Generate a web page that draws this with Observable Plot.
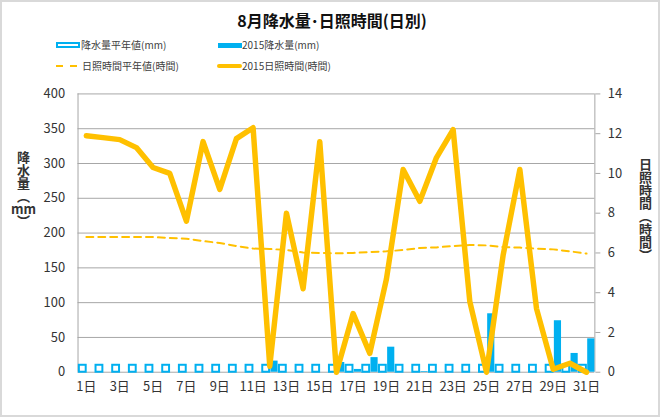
<!DOCTYPE html>
<html><head><meta charset="utf-8">
<script src="https://cdn.jsdelivr.net/npm/d3@7"></script>
<script src="https://cdn.jsdelivr.net/npm/@observablehq/plot@0.6"></script>
<style>
html,body{margin:0;padding:0;background:#fff;}
#wrap{position:relative;width:660px;height:417px;background:#fff;box-sizing:border-box;border:2px solid #d9d9d9;overflow:hidden;font-family:"Noto Sans CJK JP",sans-serif;color:#333;}
#wrap svg{position:absolute;left:-2px;top:-2px;}
.abs{position:absolute;white-space:nowrap;}
.leg{font-size:10px;line-height:10px;color:#404040;}
.vt{position:absolute;writing-mode:vertical-rl;font-size:13px;line-height:16px;font-weight:bold;color:#333;white-space:nowrap;}
.hzt{position:absolute;font-size:13px;line-height:12px;height:12px;width:24px;text-align:center;font-weight:bold;color:#333;}
</style></head>
<body>
<div id="wrap">
  <div class="abs" style="left:0;width:660px;top:8px;text-align:center;font-size:16px;font-weight:bold;color:#111;line-height:20px;">8月降水量･日照時間(日別)</div>
  <div class="abs" style="left:54px;top:40px;width:24px;height:6px;border:2px solid #00B0F0;box-sizing:border-box;background:#fff;"></div>
  <div class="abs leg" style="left:79px;top:38px;">降水量平年値(mm)</div>
  <div class="abs" style="left:216px;top:41px;width:24px;height:5px;background:#00B0F0;"></div>
  <div class="abs leg" style="left:240px;top:38px;">2015降水量(mm)</div>
  <div class="abs" style="left:54px;top:63px;width:7px;height:2px;background:#FFC000;"></div>
  <div class="abs" style="left:68px;top:63px;width:7px;height:2px;background:#FFC000;"></div>
  <div class="abs leg" style="left:80px;top:59px;">日照時間平年値(時間)</div>
  <div class="abs" style="left:215px;top:62px;width:25px;height:4px;border-radius:2px;background:#FFC000;"></div>
  <div class="abs leg" style="left:240px;top:59px;">2015日照時間(時間)</div>
  <div class="vt" style="left:13px;top:149px;">降水量（</div>
  <div class="hzt" style="left:9px;top:201px;">mm</div>
  <div class="vt" style="left:13px;top:213px;">）</div>
  <div class="vt" style="left:635px;top:156px;">日照時間（時間）</div>
</div>
<script>
const days = [1,2,3,4,5,6,7,8,9,10,11,12,13,14,15,16,17,18,19,20,21,22,23,24,25,26,27,28,29,30,31];
const rainAvg = [10,10,10,10,10,10,10,10,10,10,10,10,10,10,10,10,10,10,10,10,10,10,10,10,10,10,10,10,10,10,10];
const rain2015 = [0,0,0,0,0,0,0,0,0,0,0,16,0,0,0,14,4,21,36,0,1,0,0,0,84,0,0,0,74,27,48];
const sunAvg = [6.8,6.8,6.8,6.8,6.8,6.75,6.72,6.6,6.5,6.35,6.22,6.2,6.15,6.02,6.0,5.98,6.0,6.05,6.08,6.15,6.25,6.28,6.35,6.4,6.38,6.3,6.27,6.22,6.18,6.08,5.97];
const sun2015 = [11.9,11.8,11.7,11.3,10.3,10.0,7.6,11.6,9.2,11.75,12.3,0.3,8.0,4.2,11.6,0,2.95,0.95,4.7,10.2,8.6,10.8,12.2,3.55,0,5.9,10.2,3.2,0.15,0.45,0];
const rainTicks = [0,50,100,150,200,250,300,350,400];
const sunTicks = [0,2,4,6,8,10,12,14];
const xTicks = [1,3,5,7,9,11,13,15,17,19,21,23,25,27,29,31];

const K = 400/14; // hours -> mm on shared y scale
const rows = days.map((d,i)=>({day:d, avg:rainAvg[i], r:rain2015[i], sa:sunAvg[i]*K, s:sun2015[i]*K}));
const grid = "#a6a6a6";
const blue = "#00B0F0", gold = "#FFC000";

const chart = Plot.plot({
  width:660, height:417,
  marginLeft:78, marginRight:62, marginTop:94, marginBottom:43,
  x:{domain:[0.5,31.5]},
  y:{domain:[0,400]},
  style:{fontFamily:'"Noto Sans CJK JP",sans-serif', fontSize:"13px", color:"#333", background:"transparent", overflow:"visible"},
  marks:[
    Plot.ruleY(rainTicks, {stroke:grid}),
    Plot.ruleX([0.5,31.5], {stroke:grid}),
    Plot.axisY({ticks:rainTicks, tickSize:0, tickPadding:13, label:null}),
    Plot.axisY({anchor:"right", ticks:sunTicks.map(h=>h*K), tickSize:5, tickPadding:8, stroke:grid, tickFormat:d=>String(Math.round(d/K)), label:null}),
    Plot.axisX({ticks:xTicks, tickSize:0, tickPadding:10, tickFormat:d=>d+"日", label:null}),
    Plot.rect(rows, {x1:d=>d.day-0.42, x2:d=>d.day-0.01, y1:0, y2:"avg", fill:"#fff", stroke:blue, strokeWidth:2}),
    Plot.rect(rows, {x1:d=>d.day+0.07, x2:d=>d.day+0.5, y1:0, y2:"r", fill:blue}),
    Plot.line(rows, {x:"day", y:"sa", stroke:gold, strokeWidth:2, strokeDasharray:"7,5"}),
    Plot.line(rows, {x:"day", y:"s", stroke:gold, strokeWidth:5.5})
  ]
});
document.getElementById("wrap").appendChild(chart);
</script>
</body></html>
